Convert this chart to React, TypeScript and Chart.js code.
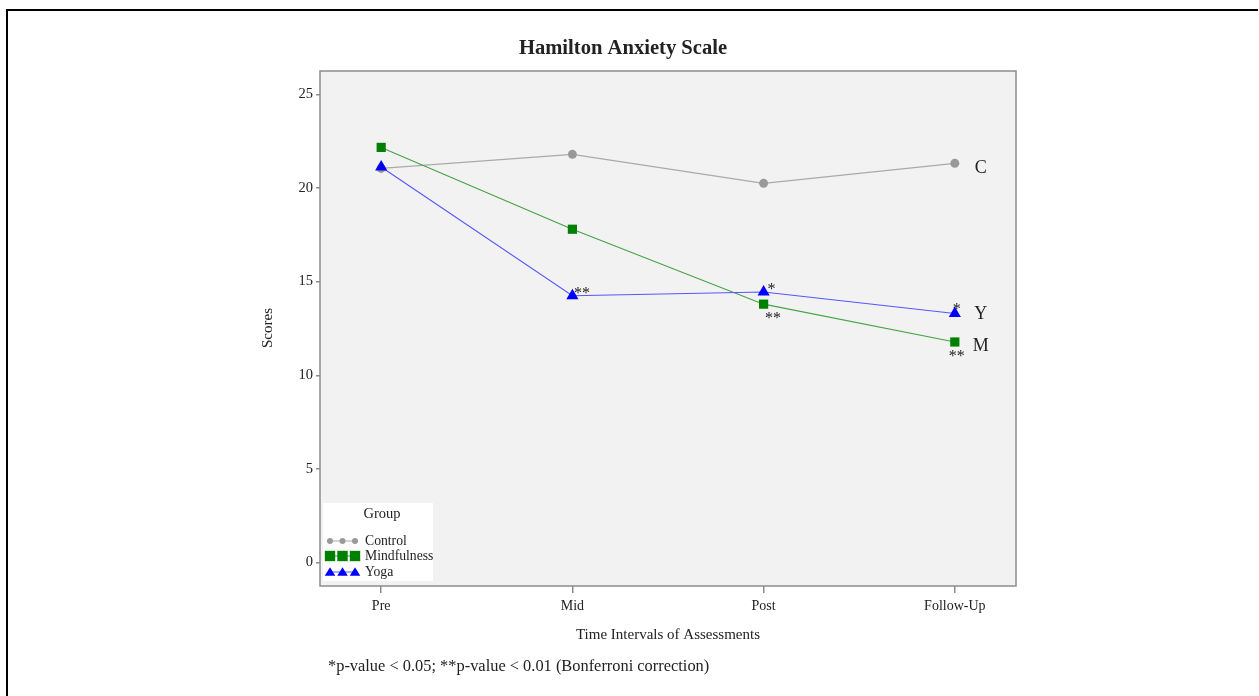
import { useEffect, useRef } from "react";
import { Chart, registerables } from "chart.js";

Chart.register(...registerables);

const categories = ["Pre", "Mid", "Post", "Follow-Up"];
const controlScores = [21.05, 21.8, 20.25, 21.32];
const mindfulnessScores = [22.17, 17.8, 13.8, 11.78];
const yogaScores = [21.12, 14.25, 14.45, 13.3];
const yTickValues = [0, 5, 10, 15, 20, 25];
const groupNames = ["Control", "Mindfulness", "Yoga"];
const groupLetters = ["C", "M", "Y"];
const controlSig = ["", "", "", ""];
const mindfulnessSig = ["", "", "**", "**"];
const yogaSig = ["", "**", "*", "*"];

const chartTitle = "Hamilton Anxiety Scale";
const xTitle = "Time Intervals of Assessments";
const yTitle = "Scores";
const legendTitle = "Group";
const footnote = "*p-value < 0.05; **p-value < 0.01 (Bonferroni correction)";

const SERIF = "'Liberation Serif', 'Times New Roman', serif";
const AXIS_GRAY = "#8c8c8c";
const TEXT = "#222222";
const LETTER_DY = [4.5, 4.5, 0.5];

const toPoints = (arr: number[]) => arr.map((y, i) => ({ x: i, y }));

function drawMarker(ctx: CanvasRenderingContext2D, style: string, x: number, y: number, r: number, color: string) {
  ctx.save();
  ctx.fillStyle = color;
  ctx.beginPath();
  if (style === "circle") {
    ctx.arc(x, y, r, 0, Math.PI * 2);
  } else if (style === "rect") {
    ctx.rect(x - r, y - r, 2 * r, 2 * r);
  } else {
    ctx.moveTo(x, y - r);
    ctx.lineTo(x + r * 1.1, y + r * 0.8);
    ctx.lineTo(x - r * 1.1, y + r * 0.8);
    ctx.closePath();
  }
  ctx.fill();
  ctx.restore();
}

const decorations = {
  id: "decorations",
  beforeDraw(chart: any) {
    const { ctx, chartArea: a, width, height } = chart;
    ctx.save();
    ctx.fillStyle = "#ffffff";
    ctx.fillRect(0, 0, width, height);
    ctx.fillStyle = "#f2f2f2";
    ctx.fillRect(a.left, a.top, a.right - a.left, a.bottom - a.top);
    ctx.strokeStyle = "#000000";
    ctx.lineWidth = 2;
    ctx.beginPath();
    ctx.moveTo(7, height + 2);
    ctx.lineTo(7, 10);
    ctx.lineTo(1258, 10);
    ctx.stroke();
    ctx.restore();
  },
  afterDatasetsDraw(chart: any) {
    const { ctx } = chart;
    const sigs = [controlSig, mindfulnessSig, yogaSig];
    ctx.save();
    ctx.fillStyle = TEXT;
    ctx.font = `16px ${SERIF}`;
    ctx.textAlign = "center";
    ctx.textBaseline = "alphabetic";
    sigs.forEach((sig, di) => {
      const meta = chart.getDatasetMeta(di);
      const below = groupNames[di] === "Mindfulness";
      sig.forEach((s, pi) => {
        if (!s) return;
        const p = meta.data[pi];
        const last = pi === sig.length - 1;
        const dx = last ? 2 : 8 + (s.length - 1) * 1.5;
        const cy = below ? p.y + 9.5 : p.y - (last ? 9.5 : 7);
        ctx.fillText(s, p.x + dx, cy + 9.5);
      });
    });
    ctx.restore();
  },
  afterDraw(chart: any) {
    const { ctx, chartArea: a } = chart;
    ctx.save();
    // frame
    ctx.strokeStyle = AXIS_GRAY;
    ctx.lineWidth = 1.5;
    ctx.strokeRect(a.left, a.top, a.right - a.left, a.bottom - a.top);

    ctx.fillStyle = TEXT;
    ctx.textBaseline = "middle";
    // title
    ctx.font = `bold 20.6px ${SERIF}`;
    ctx.textAlign = "center";
    ctx.fillText(chartTitle, 623, 48.5);
    // x title
    ctx.font = `15px ${SERIF}`;
    ctx.fillText(xTitle, (a.left + a.right) / 2, 635);
    // y title
    ctx.save();
    ctx.translate(268, 328);
    ctx.rotate(-Math.PI / 2);
    ctx.fillText(yTitle, 0, 0);
    ctx.restore();
    // footnote
    ctx.textAlign = "left";
    ctx.font = `16.4px ${SERIF}`;
    ctx.fillText(footnote, 328, 667);

    // group letters
    ctx.font = `18px ${SERIF}`;
    ctx.textAlign = "center";
    groupLetters.forEach((L, di) => {
      const meta = chart.getDatasetMeta(di);
      const p = meta.data[meta.data.length - 1];
      ctx.fillText(L, p.x + 26, p.y + LETTER_DY[di]);
    });

    // legend
    const lx = 323, ly = 503, lw = 110, lh = 78;
    ctx.fillStyle = "#ffffff";
    ctx.fillRect(lx, ly, lw, lh);
    ctx.fillStyle = TEXT;
    ctx.font = `14.5px ${SERIF}`;
    ctx.textAlign = "center";
    ctx.fillText(legendTitle, lx + 59, ly + 11);
    ctx.font = `13.7px ${SERIF}`;
    ctx.textAlign = "left";
    const rowY = [541, 556, 572];
    chart.data.datasets.forEach((ds: any, di: number) => {
      const y = rowY[di];
      ctx.strokeStyle = ds.borderColor;
      ctx.lineWidth = 1;
      ctx.beginPath();
      ctx.moveTo(329, y);
      ctx.lineTo(355, y);
      ctx.stroke();
      const r = ds.pointStyle === "circle" ? 3 : ds.pointStyle === "rect" ? 5.2 : 4.8;
      [330, 342.5, 355].forEach((mx) => drawMarker(ctx, ds.pointStyle, mx, y, r, ds.pointBackgroundColor));
      ctx.fillStyle = TEXT;
      ctx.fillText(ds.label, 365, y);
    });
    ctx.restore();
  },
};

export default function App() {
  const ref = useRef<HTMLCanvasElement>(null);
  useEffect(() => {
    const canvas = ref.current;
    if (!canvas) return;
    const chart = new Chart(canvas, {
      type: "line",
      data: {
        datasets: [
          {
            label: groupNames[0],
            data: toPoints(controlScores),
            borderColor: "#aaaaaa",
            borderWidth: 1.2,
            pointStyle: "circle",
            pointRadius: 4.5,
            pointBackgroundColor: "#999999",
            pointBorderColor: "#999999",
            pointBorderWidth: 0,
            order: 2,
          },
          {
            label: groupNames[1],
            data: toPoints(mindfulnessScores),
            borderColor: "#45a345",
            borderWidth: 1.1,
            pointStyle: "rect",
            pointRadius: 6.5,
            pointBackgroundColor: "#008000",
            pointBorderColor: "#008000",
            pointBorderWidth: 0,
            order: 1,
          },
          {
            label: groupNames[2],
            data: toPoints(yogaScores),
            borderColor: "#5555ff",
            borderWidth: 1.1,
            pointStyle: "triangle",
            pointRadius: 7,
            pointBackgroundColor: "#0000ff",
            pointBorderColor: "#0000ff",
            pointBorderWidth: 0,
            order: 0,
          },
        ],
      } as any,
      options: {
        responsive: false,
        animation: false,
        devicePixelRatio: 1,
        layout: { padding: { left: 260, top: 71, right: 243, bottom: 70 } },
        plugins: { legend: { display: false }, tooltip: { enabled: false }, title: { display: false } },
        elements: { line: { tension: 0 } },
        scales: {
          x: {
            type: "linear",
            min: -0.32,
            max: 3.32,
            afterBuildTicks: (s: any) => {
              s.ticks = categories.map((_, i) => ({ value: i }));
            },
            afterFit: (s: any) => {
              s.height = 40;
            },
            ticks: {
              autoSkip: false,
              maxRotation: 0,
              padding: 5,
              color: TEXT,
              font: { family: SERIF, size: 14 },
              callback: (v: any) => categories[Math.round(Number(v))] ?? "",
            },
            grid: { drawOnChartArea: false, tickLength: 7, color: AXIS_GRAY, lineWidth: 1.5 },
            border: { display: false },
          },
          y: {
            type: "linear",
            min: -1.25,
            max: 26.25,
            afterBuildTicks: (s: any) => {
              s.ticks = yTickValues.map((v) => ({ value: v }));
            },
            afterFit: (s: any) => {
              s.width = 60;
            },
            ticks: {
              padding: 3,
              color: TEXT,
              font: { family: SERIF, size: 14.5 },
            },
            grid: { drawOnChartArea: false, tickLength: 4, color: AXIS_GRAY, lineWidth: 1.5 },
            border: { display: false },
          },
        },
      } as any,
      plugins: [decorations],
    });
    return () => chart.destroy();
  }, []);
  return (
    <div style={{ position: "fixed", left: 0, top: 0, width: 1259, height: 696, background: "#fff" }}>
      <canvas ref={ref} width={1259} height={696} style={{ display: "block", width: 1259, height: 696 }} />
    </div>
  );
}
